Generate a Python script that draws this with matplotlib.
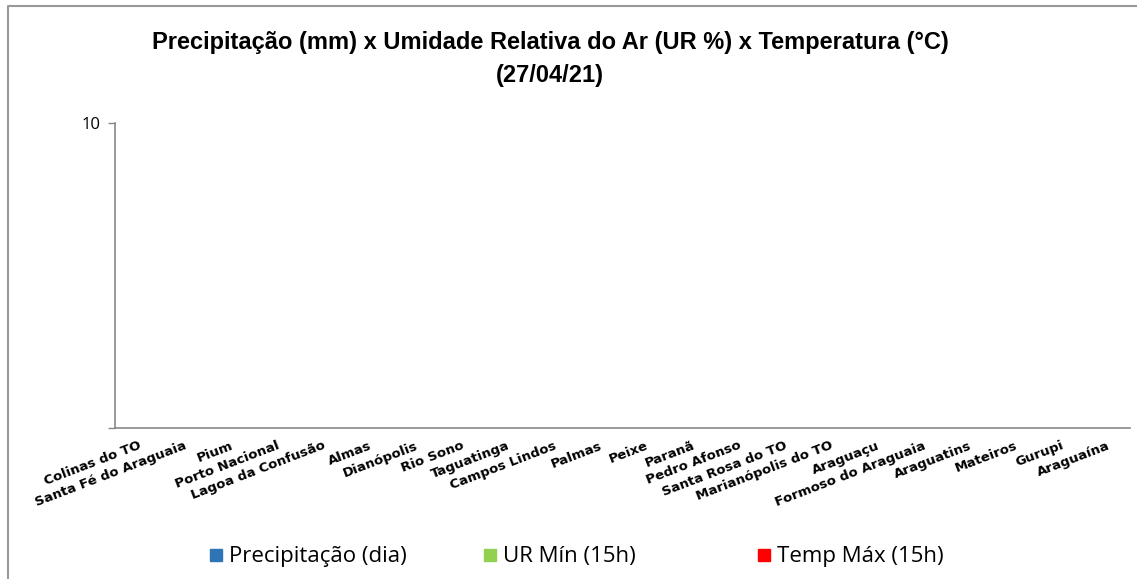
import matplotlib.pyplot as plt
from matplotlib.lines import Line2D
import numpy as np

cidades = ["Colinas do TO", "Santa Fé do Araguaia", "Pium", "Porto Nacional",
           "Lagoa da Confusão", "Almas", "Dianópolis", "Rio Sono", "Taguatinga",
           "Campos Lindos", "Palmas", "Peixe", "Paranã", "Pedro Afonso",
           "Santa Rosa do TO", "Marianópolis do TO", "Araguaçu",
           "Formoso do Araguaia", "Araguatins", "Mateiros", "Gurupi", "Araguaína"]
# nothing was plotted on this date, every value is zero
precipitacao = [0] * 22
ur_min = [0] * 22
temp_max = [0] * 22

series = ["Precipitação (dia)", "UR Mín (15h)", "Temp Máx (15h)"]
cores = ["#2e75b6", "#92d050", "#ff0000"]

fig = plt.figure(figsize=(11.37, 5.79), dpi=100)
ax = fig.add_axes([0.101, 0.261, 0.893, 0.527])

x = np.arange(len(cidades))
w = 0.25
for k, vals in enumerate([precipitacao, ur_min, temp_max]):
    ax.bar(x + (k - 1) * w, vals, width=w, color=cores[k])

ax.set_xlim(-0.5, len(cidades) - 0.5)
ax.set_ylim(0, 10)
ax.set_yticks([0, 10])
ax.set_yticklabels(["", "10"], fontsize=12, family="Open Sans")
ax.tick_params(axis="y", length=5, color="#888888", width=1, pad=5)
ax.set_xticks(x)
ax.set_xticklabels(cidades, rotation=21, ha="right", va="top",
                   rotation_mode="anchor", fontsize=9.5, fontweight="bold",
                   family="DejaVu Sans")
ax.tick_params(axis="x", length=0, pad=8)
for s in ["top", "right"]:
    ax.spines[s].set_visible(False)
ax.spines["left"].set_color("#888888")
ax.spines["bottom"].set_color("#888888")
ax.spines["left"].set_linewidth(1.2)
ax.spines["bottom"].set_linewidth(1.2)

fig.text(0.484, 0.927, "Precipitação (mm) x Umidade Relativa do Ar (UR %) x Temperatura (°C)",
         ha="center", va="center", fontsize=17, fontweight="bold",
         family="Liberation Sans")
fig.text(0.484, 0.870, "(27/04/21)", ha="center", va="center", fontsize=17,
         fontweight="bold", family="Liberation Sans")

# one legend per entry so each sits where the reference puts it
for k, xpos in enumerate([209, 483, 757]):
    h = Line2D([], [], marker="s", linestyle="none", markersize=8, color=cores[k])
    leg = fig.legend([h], [series[k]], loc="center left",
                     bbox_to_anchor=(xpos / 1137, 0.038), frameon=False,
                     borderpad=0, borderaxespad=0, handlelength=0.6,
                     handletextpad=0.3, prop={"family": "Open Sans", "size": 16})

# chart frame: only the left and top edges show in the screenshot
fig.add_artist(Line2D([0.0066, 0.0066, 1.0], [0.0, 0.989, 0.989], transform=fig.transFigure,
                      color="#999999", linewidth=1.5))

fig.savefig("out.png", dpi=100)
